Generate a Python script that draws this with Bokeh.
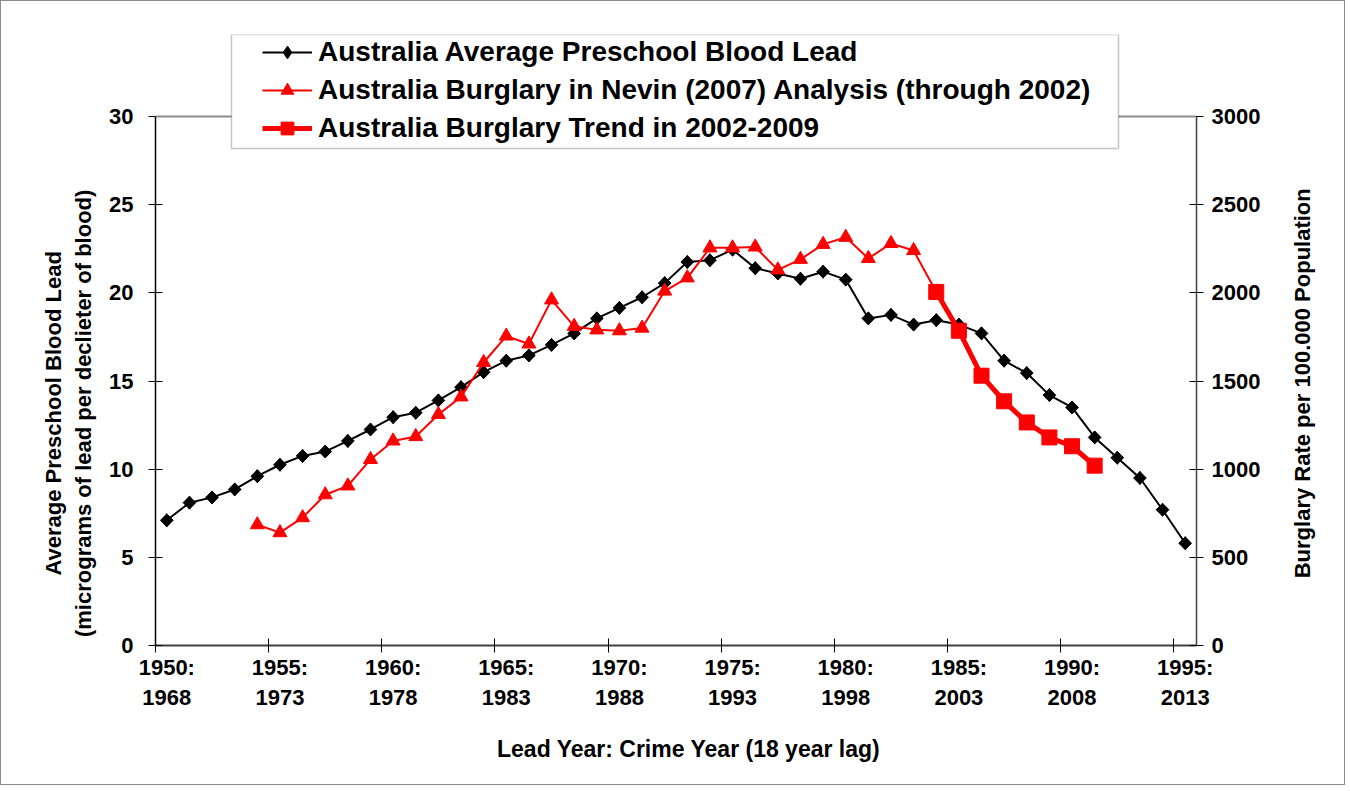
import math
from bokeh.plotting import figure
from bokeh.models import (Range1d, LinearAxis, FixedTicker, Legend, LegendItem,
                          BoxAnnotation, Span)
from bokeh.embed import file_html
from bokeh.resources import INLINE

# ---------------- data ----------------
lead_years = list(range(1950, 1996))
blood_lead = [7.1, 8.1, 8.4, 8.85, 9.6, 10.25, 10.75, 11.0, 11.6, 12.25,
              12.95, 13.2, 13.9, 14.65, 15.5, 16.15, 16.45, 17.05, 17.7, 18.55,
              19.15, 19.75, 20.55, 21.75, 21.85, 22.45, 21.4, 21.1, 20.8, 21.2,
              20.75, 18.55, 18.75, 18.2, 18.45, 18.2, 17.7, 16.15, 15.45, 14.2,
              13.5, 11.8, 10.65, 9.5, 7.7, 5.8]

nevin_years = list(range(1954, 1985))
nevin_burglary = [685, 640, 725, 855, 905, 1055, 1160, 1185, 1310, 1410,
                  1605, 1755, 1710, 1960, 1810, 1790, 1785, 1800, 2010, 2085,
                  2255, 2255, 2260, 2130, 2190, 2275, 2315, 2195, 2280, 2240,
                  2005]

trend_years = list(range(1984, 1992))
trend_burglary = [2005, 1785, 1530, 1385, 1265, 1180, 1130, 1020]

tick_years = [1950, 1955, 1960, 1965, 1970, 1975, 1980, 1985, 1990, 1995]
tick_labels = ["1950:\n1968", "1955:\n1973", "1960:\n1978", "1965:\n1983",
               "1970:\n1988", "1975:\n1993", "1980:\n1998", "1985:\n2003",
               "1990:\n2008", "1995:\n2013"]
boundary_ticks = [1949.5, 1954.5, 1959.5, 1964.5, 1969.5, 1974.5, 1979.5,
                  1984.5, 1989.5, 1994.5]
left_ticks = [0, 5, 10, 15, 20, 25, 30]
right_ticks = [0, 500, 1000, 1500, 2000, 2500, 3000]

FONT = "Liberation Sans"
NB = "\u00a0"

# layout geometry (pixels)
W, H = 1345, 785
FL, FR, FT, FB = 154, 1195, 33, 644   # frame edges in canvas px
Y30 = 115                               # canvas y of value 30
frame_h = FB - FT
y_top = 30.0 * frame_h / (FB - Y30)

p = figure(width=W, height=H, output_backend="svg", toolbar_location=None,
           x_range=Range1d(1949.5, 1995.5), y_range=Range1d(0, y_top),
           min_border_left=FL, min_border_right=W - FR,
           min_border_top=FT, min_border_bottom=H - FB)
p.extra_y_ranges = {"burg": Range1d(0, y_top * 100.0)}
p.xgrid.visible = False
p.ygrid.visible = False
p.outline_line_color = None
p.background_fill_color = "white"
p.border_fill_color = "white"
p.styles = {"border": "1px solid #8c8c8c"}

# top edge of the plot area
p.add_layout(Span(location=30, dimension="width", line_color="#8c8c8c",
                  line_width=2))

# x axis
xa = p.xaxis[0]
xa.ticker = FixedTicker(ticks=tick_years, minor_ticks=boundary_ticks)
xa.major_label_overrides = {y: l for y, l in zip(tick_years, tick_labels)}
xa.major_tick_in = 0
xa.major_tick_out = 0
xa.minor_tick_in = 7
xa.minor_tick_out = 7
xa.minor_tick_line_color = "black"
xa.axis_line_color = "#404040"
xa.axis_line_width = 2
xa.major_label_text_font = FONT
xa.major_label_text_font_style = "bold"
xa.major_label_text_font_size = "22px"
xa.major_label_text_color = "black"
xa.major_label_standoff = 2
xa.axis_label = NB * 4 + "Lead Year: Crime Year (18 year lag)"
xa.axis_label_text_font = FONT
xa.axis_label_text_font_style = "bold"
xa.axis_label_text_font_size = "23px"
xa.axis_label_text_color = "black"
xa.axis_label_standoff = 23

# left axis
ya = p.yaxis[0]
ya.ticker = FixedTicker(ticks=left_ticks)
ya.bounds = (0, 30)
ya.major_tick_in = 7
ya.major_tick_out = 7
ya.major_tick_line_color = "black"
ya.minor_tick_line_color = None
ya.axis_line_color = "black"
ya.axis_line_width = 1.5
ya.major_label_text_font = FONT
ya.major_label_text_font_style = "bold"
ya.major_label_text_font_size = "22px"
ya.major_label_text_color = "black"
ya.major_label_standoff = 15
ya.axis_label = ("Average Preschool Blood Lead" + NB * 24 + "\n"
                 "(micrograms of lead per declieter of blood)" + NB * 24)
ya.axis_label_text_font = FONT
ya.axis_label_text_font_style = "bold"
ya.axis_label_text_font_size = "22px"
ya.axis_label_text_color = "black"
ya.axis_label_standoff = 10

# right axis
ra = LinearAxis(y_range_name="burg", ticker=FixedTicker(ticks=right_ticks))
ra.bounds = (0, 3000)
ra.major_tick_in = 7
ra.major_tick_out = 7
ra.major_tick_line_color = "black"
ra.minor_tick_line_color = None
ra.axis_line_color = "#404040"
ra.axis_line_width = 1.5
ra.major_label_text_font = FONT
ra.major_label_text_font_style = "bold"
ra.major_label_text_font_size = "22px"
ra.major_label_text_color = "black"
ra.major_label_standoff = 8
ra.axis_label_text_font = FONT
ra.axis_label_text_font_style = "bold"
ra.axis_label_text_font_size = "22px"
ra.axis_label_text_color = "black"
ra.axis_label_standoff = 39
ra.axis_label_orientation = math.pi / 2
ra.axis_label_align = "start"
ra.axis_label = NB * 11 + "Burglary Rate per 100.000 Population"
p.add_layout(ra, "right")

# series
l1 = p.line(lead_years, blood_lead, line_color="black", line_width=2)
d1 = p.scatter(lead_years, blood_lead, marker="diamond", size=13,
               fill_color="black", line_color="black")
s1 = p.scatter(lead_years, blood_lead, marker="square", angle=0.7854, size=9,
               fill_color="black", line_color="black")

l2 = p.line(nevin_years, nevin_burglary, line_color="#ff0000", line_width=2,
            y_range_name="burg")
s2 = p.scatter(nevin_years, nevin_burglary, marker="triangle", size=14,
               fill_color="#ff0000", line_color="#ff0000", y_range_name="burg")

l3 = p.line(trend_years, trend_burglary, line_color="#ff0000", line_width=5,
            y_range_name="burg")
s3 = p.scatter(trend_years, trend_burglary, marker="square", size=15,
               fill_color="#ff0000", line_color="#ff0000", y_range_name="burg")

# legend frame
box = BoxAnnotation(left=76, right=963, bottom=497, top=frame_h,
                    left_units="screen", right_units="screen",
                    bottom_units="screen", top_units="screen",
                    fill_color="white", fill_alpha=1.0,
                    line_color="#404040", line_width=1.5, level="overlay")
p.add_layout(box)

legend = Legend(items=[
    LegendItem(label="Australia Average Preschool Blood Lead", renderers=[l1, d1]),
    LegendItem(label="Australia Burglary in Nevin (2007) Analysis (through 2002)", renderers=[l2, s2]),
    LegendItem(label="Australia Burglary Trend in 2002-2009", renderers=[l3, s3]),
], location=(107, 501), padding=0, margin=0, spacing=6,
    glyph_width=50, glyph_height=32, label_height=32, label_standoff=6,
    label_text_font=FONT, label_text_font_style="bold",
    label_text_font_size="28px", label_text_color="black",
    border_line_alpha=0, background_fill_alpha=0)
p.add_layout(legend, "center")

open("out.html", "w").write(file_html(p, INLINE))
